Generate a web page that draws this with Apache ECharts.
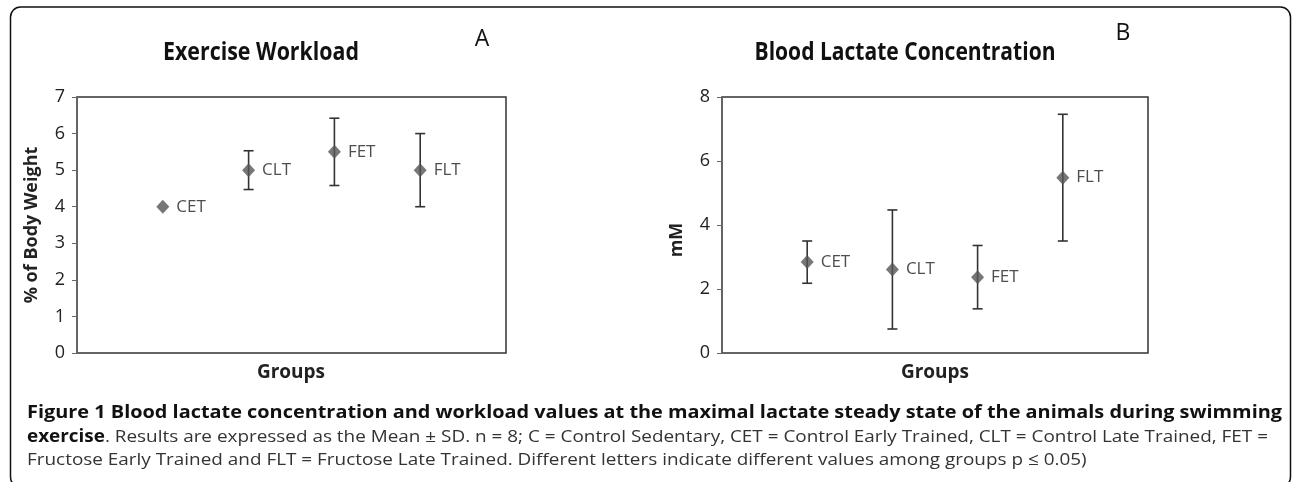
<!DOCTYPE html>
<html>
<head>
<meta charset="utf-8">
<script src="https://cdn.jsdelivr.net/npm/echarts@6/dist/echarts.min.js"></script>
<style>
  html, body { margin: 0; padding: 0; background: #fff; }
  #main { width: 1292px; height: 482px; }
</style>
</head>
<body>
<div id="main"></div>
<script>
// groups and their slot on the (hidden) x axis
var groups = ['CET', 'CLT', 'FET', 'FLT'];
var groupPos = [1, 2, 3, 4];

// panel A - exercise workload (% of body weight), mean and SD
var workMean = [4.0, 5.0, 5.5, 5.0];
var workSD = [0, 0.53, 0.92, 1.0];

// panel B - blood lactate (mM), mean and SD
var lactMean = [2.84, 2.61, 2.37, 5.48];
var lactSD = [0.66, 1.86, 0.99, 1.98];

var captionLines = [
  'Figure 1 Blood lactate concentration and workload values at the maximal lactate steady state of the animals during swimming',
  'Results are expressed as the Mean \u00b1 SD. n = 8; C = Control Sedentary, CET = Control Early Trained, CLT = Control Late Trained, FET =',
  'Fructose Early Trained and FLT = Fructose Late Trained. Different letters indicate different values among groups p \u2264 0.05)'
];

var tickFont = '"Open Sans", "Noto Sans", sans-serif';

function pts(means, sds) {
  var out = [];
  for (var i = 0; i < groups.length; i++) {
    out.push({ value: [groupPos[i], means[i], sds[i]], name: groups[i] });
  }
  return out;
}

// error bars (vertical line + caps)
function errorBar(params, api) {
  var x = api.value(0), m = api.value(1), sd = api.value(2);
  if (!sd) return null;
  var hi = api.coord([x, m + sd]);
  var lo = api.coord([x, m - sd]);
  var cap = 5;
  var st = { stroke: '#333', lineWidth: 1.6 };
  return {
    type: 'group',
    children: [
      { type: 'line', shape: { x1: hi[0], y1: hi[1], x2: lo[0], y2: lo[1] }, style: st },
      { type: 'line', shape: { x1: hi[0] - cap, y1: hi[1], x2: hi[0] + cap, y2: hi[1] }, style: st },
      { type: 'line', shape: { x1: lo[0] - cap, y1: lo[1], x2: lo[0] + cap, y2: lo[1] }, style: st }
    ]
  };
}

// text width helper so titles / caption lines can be squeezed to the original widths
var mctx = document.createElement('canvas').getContext('2d');
function textW(str, font) { mctx.font = font; return mctx.measureText(str).width; }

var titleFnt = 'bold 25px "Open Sans"';
var tA = 196 / textW('Exercise Workload', titleFnt);
var tB = 301 / textW('Blood Lactate Concentration', titleFnt);

var capSize = 17;
var boldFont = 'bold ' + capSize + 'px "Open Sans"';
var regFont = capSize + 'px "Open Sans"';
var s1 = 1255 / textW(captionLines[0], boldFont);
var w2 = textW('exercise', boldFont) + textW('. ' + captionLines[1], regFont);
var s2 = 1241 / w2;

var chart = echarts.init(document.getElementById('main'));

var axisY = function (gi, max, step, name, pad) {
  return {
    gridIndex: gi, type: 'value', min: 0, max: max, interval: step,
    name: name, nameLocation: 'middle', nameGap: 36,
    nameTextStyle: { fontFamily: tickFont, fontWeight: 'bold', fontSize: 18, color: '#222', padding: pad },
    axisLine: { show: true, lineStyle: { color: '#666', width: 1.5 } },
    axisTick: { show: true, length: 5, lineStyle: { color: '#666' } },
    axisLabel: { fontFamily: tickFont, fontSize: 18, color: '#222', margin: 12 },
    splitLine: { show: false }
  };
};

var dotStyle = {
  type: 'scatter', symbol: 'diamond', symbolSize: [13, 14], itemStyle: { color: '#555' }, z: 3,
  label: { show: true, position: 'right', distance: 7, formatter: '{b}', fontFamily: tickFont, fontSize: 17, color: '#222' }
};

var option = {
  animation: false,
  grid: [
    { left: 77, top: 97, width: 429, height: 256, show: true, borderColor: '#333', borderWidth: 1.5 },
    { left: 722, top: 97, width: 426, height: 256, show: true, borderColor: '#333', borderWidth: 1.5 }
  ],
  xAxis: [
    { gridIndex: 0, type: 'value', min: 0, max: 5, show: false },
    { gridIndex: 1, type: 'value', min: 0, max: 5, show: false }
  ],
  yAxis: [
    axisY(0, 7, 1, '% of Body Weight', [0, 0, 0, 0]),
    axisY(1, 8, 2, 'mM', [0, 30, 0, 0])
  ],
  series: [
    { type: 'custom', xAxisIndex: 0, yAxisIndex: 0, data: pts(workMean, workSD), renderItem: errorBar, z: 2 },
    Object.assign({ xAxisIndex: 0, yAxisIndex: 0, data: pts(workMean, workSD) }, dotStyle),
    { type: 'custom', xAxisIndex: 1, yAxisIndex: 1, data: pts(lactMean, lactSD), renderItem: errorBar, z: 2 },
    Object.assign({ xAxisIndex: 1, yAxisIndex: 1, data: pts(lactMean, lactSD) }, dotStyle)
  ],
  graphic: [
    // outer frame
    { type: 'rect', shape: { x: 10.5, y: 7, width: 1280, height: 480, r: 10 }, style: { fill: null, stroke: '#111', lineWidth: 1.5 }, silent: true },
    // panel titles
    { type: 'text', x: 261, y: 53, scaleX: tA, style: { text: 'Exercise Workload', font: titleFnt, fill: '#111', align: 'center', verticalAlign: 'middle' } },
    { type: 'text', x: 905, y: 53, scaleX: tB, style: { text: 'Blood Lactate Concentration', font: titleFnt, fill: '#111', align: 'center', verticalAlign: 'middle' } },
    { type: 'text', x: 482, y: 39, style: { text: 'A', font: '23px ' + tickFont, fill: '#111', align: 'center', verticalAlign: 'middle' } },
    { type: 'text', x: 1123, y: 33, style: { text: 'B', font: '23px ' + tickFont, fill: '#111', align: 'center', verticalAlign: 'middle' } },
    // x axis titles
    { type: 'text', x: 291, y: 373, style: { text: 'Groups', font: 'bold 19px ' + tickFont, fill: '#222', align: 'center', verticalAlign: 'middle' } },
    { type: 'text', x: 935, y: 373, style: { text: 'Groups', font: 'bold 19px ' + tickFont, fill: '#222', align: 'center', verticalAlign: 'middle' } },
    // caption
    { type: 'text', x: 27, y: 413, scaleX: s1, style: { text: captionLines[0], font: boldFont, fill: '#111', verticalAlign: 'middle' } },
    {
      type: 'text', x: 27, y: 437, scaleX: s2,
      style: {
        text: '{b|exercise}{r|. ' + captionLines[1] + '}', verticalAlign: 'middle',
        rich: {
          b: { font: boldFont, fill: '#111' },
          r: { font: regFont, fill: '#333' }
        }
      }
    },
    { type: 'text', x: 27, y: 460, scaleX: s2, style: { text: captionLines[2], font: regFont, fill: '#333', verticalAlign: 'middle' } }
  ]
};

chart.setOption(option);
</script>
</body>
</html>
